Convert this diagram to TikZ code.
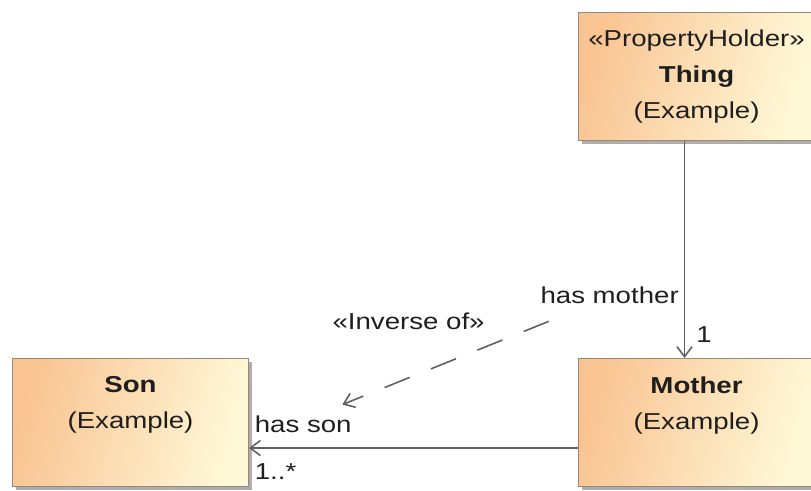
\documentclass[tikz,border=0pt]{standalone}
\usepackage{fontspec}
\setmainfont{Liberation Sans}[FakeStretch=1.2]
\usepackage{xcolor}
\usetikzlibrary{arrows.meta,positioning,shadows}
\definecolor{clsorange}{RGB}{249,196,146}
\definecolor{clsyellow}{RGB}{255,249,216}
\definecolor{clsedge}{RGB}{150,136,116}
\definecolor{lnk}{RGB}{95,95,95}
\definecolor{txt}{RGB}{30,30,30}

\begin{document}
\begin{tikzpicture}[
  cls/.style={draw=clsedge,line width=0.6pt,left color=clsorange,right color=clsyellow,shading angle=75,
    minimum width=4.72cm,minimum height=2.56cm,anchor=north west,
    drop shadow={shadow xshift=0.07cm,shadow yshift=-0.07cm,fill=black!45,opacity=0.7}},
  nm/.style={anchor=north,align=center,inner sep=0pt,text=txt,font=\fontsize{13.1}{20.7}\selectfont},
  lbl/.style={inner sep=0.1cm,text=txt,font=\fontsize{13.1}{15.7}\selectfont},
  ar/.style={draw=lnk,line width=0.9pt,-{Straight Barb[length=0.2cm,width=0.3cm]}}]
\useasboundingbox (0,0) rectangle (16.22,-9.8);
\node[cls] (thing)  at (11.56,-0.24) {};
\node[cls] (son)    at (0.24,-7.16)  {};
\node[cls] (mother) at (11.56,-7.16) {};
\node[nm] (thingname)  at ([yshift=-0.34cm]thing.north)  {«PropertyHolder»\\\textbf{Thing}\\(Example)};
\node[nm] (sonname)    at ([yshift=-0.36cm]son.north)    {\textbf{Son}\\(Example)};
\node[nm] (mothername) at ([yshift=-0.36cm]mother.north) {\textbf{Mother}\\(Example)};
\draw[ar] ([xshift=-0.24cm]thing.south) --
  node[lbl,pos=0.71,left] (hasmother) {has mother}
  node[lbl,pos=0.89,right,xshift=0.12cm] (one) {1}
  ([xshift=-0.24cm]mother.north);
\draw[ar] ([yshift=-0.51cm]mother.west) --
  node[lbl,pos=1,anchor=south west,yshift=0.2cm] (hasson) {has son}
  node[lbl,pos=1,anchor=north west,yshift=-0.2cm] (many) {1..*}
  ([yshift=-0.51cm]son.east);
\draw[ar,dash pattern=on 0.54cm off 0.46cm]
  ([shift={(0.28cm,-0.24cm)}]hasmother.south west) --
  node[lbl,pos=0.5,xshift=-0.74cm,yshift=0.83cm] (inverse) {«Inverse of»}
  ([shift={(-0.3cm,0.1cm)}]hasson.north east);
\end{tikzpicture}
\end{document}
